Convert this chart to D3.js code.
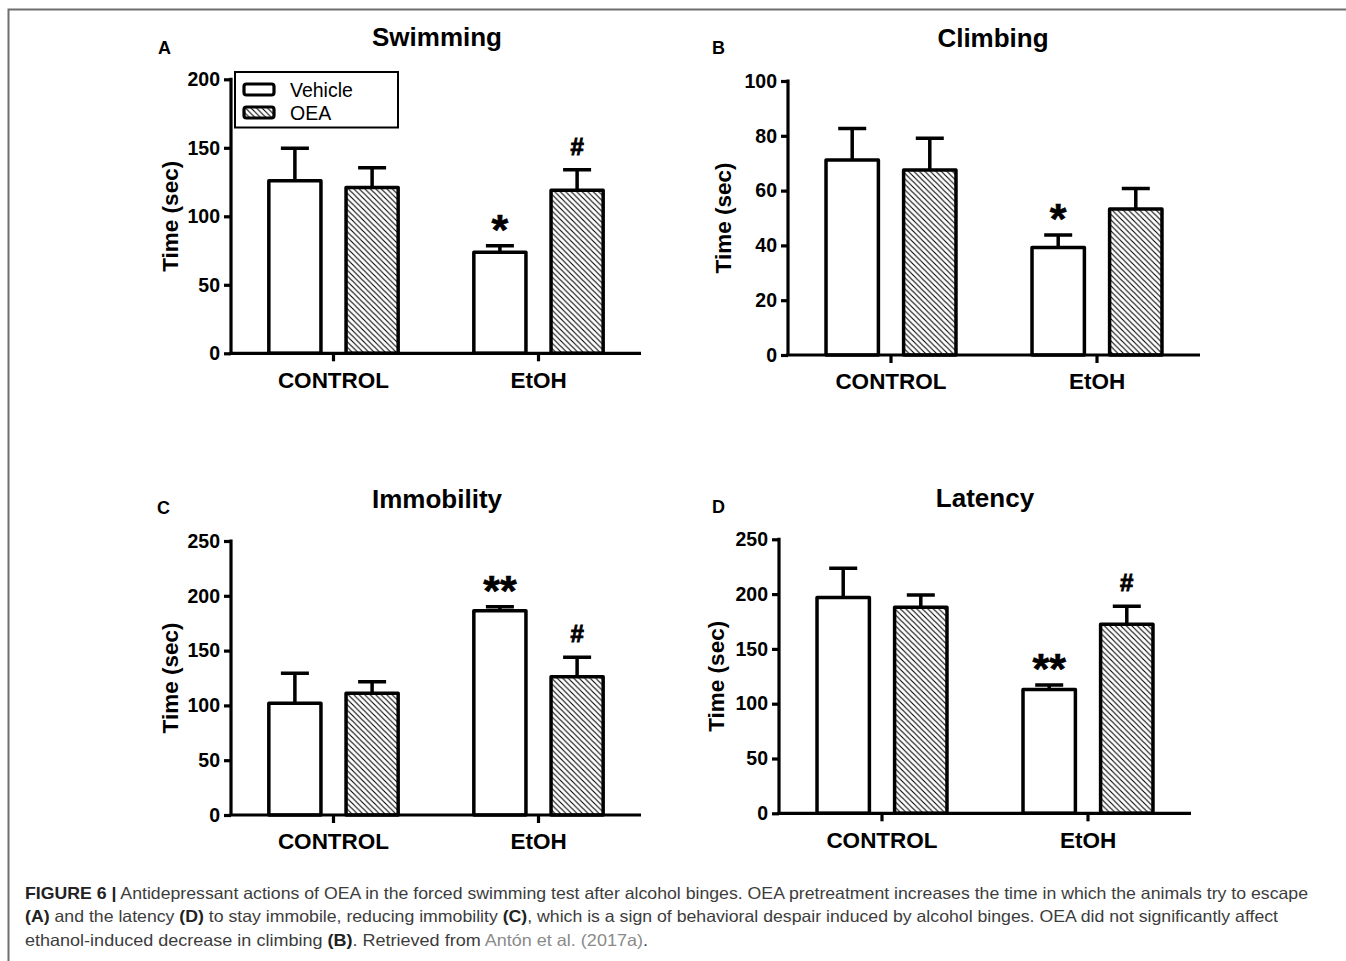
<!DOCTYPE html>
<html><head><meta charset="utf-8">
<script src="https://cdn.jsdelivr.net/npm/d3@7"></script>
<style>
html,body{margin:0;padding:0;background:#fff;}
svg{display:block;font-family:"Liberation Sans",Arial,sans-serif;}
</style></head>
<body><svg id="c" width="1346" height="961"></svg>
<script>
// ---- data ----
const groups = ["CONTROL", "EtOH"];
const treatments = ["Vehicle", "OEA"];
const panelLetters = ["A", "B", "C", "D"];
const panelTitles = ["Swimming", "Climbing", "Immobility", "Latency"];
const yMaxes = [200, 100, 250, 250];
const yTicksA = [0, 50, 100, 150, 200];
const yTicksB = [0, 20, 40, 60, 80, 100];
const yTicksC = [0, 50, 100, 150, 200, 250];
const yTicksD = [0, 50, 100, 150, 200, 250];
// means [group][treatment]
const swimmingMean = [[126, 121], [73.7, 119]];
const swimmingSEM = [[23.7, 14.5], [4.8, 15]];
const climbingMean = [[71.2, 67.5], [39.2, 53.3]];
const climbingSEM = [[11.5, 11.6], [4.6, 7.5]];
const immobilityMean = [[102, 111], [186.4, 126.2]];
const immobilitySEM = [[27.3, 10.6], [3.6, 17.7]];
const latencyMean = [[197, 188], [113, 172.4]];
const latencySEM = [[26.5, 11.2], [4, 16.6]];
const swimmingSig = [["", ""], ["*", "#"]];
const climbingSig = [["", ""], ["*", ""]];
const immobilitySig = [["", ""], ["**", "#"]];
const latencySig = [["", ""], ["**", "#"]];
const yLabel = "Time (sec)";

const means = [swimmingMean, climbingMean, immobilityMean, latencyMean];
const sems = [swimmingSEM, climbingSEM, immobilitySEM, latencySEM];
const sigs = [swimmingSig, climbingSig, immobilitySig, latencySig];
const ticks = [yTicksA, yTicksB, yTicksC, yTicksD];

// ---- layout (positions only) ----
const layout = [
  {x0: 231, x1: 641, yT: 79.3, yB: 353.3, tx: 437, ty: 46, lx: 158, ly: 54, ax: 170},
  {x0: 788, x1: 1200, yT: 81, yB: 355, tx: 993, ty: 47, lx: 712, ly: 54, ax: 723},
  {x0: 231, x1: 641, yT: 541, yB: 815, tx: 437, ty: 508, lx: 157, ly: 514, ax: 170},
  {x0: 779, x1: 1191, yT: 539.3, yB: 813.3, tx: 985, ty: 507, lx: 712, ly: 513, ax: 716}
];

const svg = d3.select("#c");
const defs = svg.append("defs");
const pat = defs.append("pattern").attr("id", "hatch")
  .attr("patternUnits", "userSpaceOnUse").attr("width", 5.5).attr("height", 5.5);
pat.append("rect").attr("width", 5.5).attr("height", 5.5).attr("fill", "#fff");
pat.append("path").attr("d", "M-1,-1 L6.5,6.5 M-1,4.5 L1,6.5 M4.5,-1 L6.5,1")
  .attr("stroke", "#000").attr("stroke-width", 1.1);

// frame
svg.append("path").attr("d", "M1346,9.5 L8.5,9.5 L8.5,961")
  .attr("fill", "none").attr("stroke", "#6f6f6f").attr("stroke-width", 2);

layout.forEach((L, i) => {
  const g = svg.append("g");
  const y = d3.scaleLinear().domain([0, yMaxes[i]]).range([L.yB, L.yT]);
  const x = d3.scaleBand().domain(groups).range([L.x0, L.x1]).padding(0);
  const xs = d3.scaleBand().domain(treatments).range([0, x.bandwidth()])
    .paddingInner(0.325).paddingOuter(0.49);

  // title & letter
  g.append("text").attr("x", L.tx).attr("y", L.ty).attr("text-anchor", "middle")
    .attr("font-size", 26).attr("font-weight", "bold").text(panelTitles[i]);
  g.append("text").attr("x", L.lx).attr("y", L.ly)
    .attr("font-size", 18).attr("font-weight", "bold").text(panelLetters[i]);

  // bars
  const data = [];
  groups.forEach((gr, gi) => treatments.forEach((tr, ti) => {
    data.push({gr, tr, m: means[i][gi][ti], s: sems[i][gi][ti], sig: sigs[i][gi][ti]});
  }));
  const bx = d => x(d.gr) + xs(d.tr);
  const bw = xs.bandwidth();

  // error bars (upper only)
  g.selectAll(".err").data(data).enter().append("path")
    .attr("d", d => {
      const cx = bx(d) + bw / 2;
      const t = y(d.m + d.s);
      return `M${cx},${y(d.m)} L${cx},${t} M${cx - 14},${t} L${cx + 14},${t}`;
    })
    .attr("stroke", "#000").attr("stroke-width", 3.5).attr("fill", "none");

  g.selectAll(".bar").data(data).enter().append("rect")
    .attr("x", d => bx(d)).attr("width", bw)
    .attr("y", d => y(d.m)).attr("height", d => y(0) - y(d.m))
    .attr("fill", d => d.tr === "OEA" ? "url(#hatch)" : "#fff")
    .attr("stroke", "#000").attr("stroke-width", 3.5).attr("stroke-linejoin", "round");

  // significance marks
  g.selectAll(".sig").data(data.filter(d => d.sig)).enter().append("text")
    .attr("x", d => bx(d) + bw / 2)
    .attr("y", d => d.sig === "#" ? y(d.m + d.s) - 15 : y(d.m + d.s) - 2)
    .attr("text-anchor", "middle").attr("font-weight", "bold")
    .attr("font-size", d => d.sig === "#" ? 24 : 43)
    .attr("stroke", "#000").attr("stroke-width", d => d.sig === "#" ? 0.9 : 0.6)
    .text(d => d.sig);

  // axes
  const ya = d3.axisLeft(y).tickValues(ticks[i]).tickSize(7).tickPadding(4).tickSizeOuter(0);
  const yg = g.append("g").attr("transform", `translate(${L.x0},0)`).call(ya);
  const xa = d3.axisBottom(x).tickSize(8).tickSizeOuter(0).tickPadding(6);
  const xg = g.append("g").attr("transform", `translate(0,${L.yB})`).call(xa);
  [yg, xg].forEach(a => {
    a.select(".domain").attr("stroke", "#000").attr("stroke-width", 3.2);
    a.selectAll(".tick line").attr("stroke", "#000").attr("stroke-width", 3.2);
    a.selectAll("text").attr("font-family", "Liberation Sans, Arial, sans-serif")
      .attr("font-weight", "bold").attr("fill", "#000");
  });
  xg.select(".domain").attr("d", `M${L.x0 - 1.6},0 H${L.x1}`);
  yg.select(".domain").attr("d", `M0,${L.yB} V${L.yT - 1.6}`);
  yg.selectAll("text").attr("font-size", 19.5);
  xg.selectAll("text").attr("font-size", 22.5).attr("dy", "0.9em");

  // y label
  g.append("text").attr("transform", `translate(${L.ax + 8},${(L.yT + L.yB) / 2}) rotate(-90)`)
    .attr("text-anchor", "middle").attr("font-size", 22.5).attr("font-weight", "bold").text(yLabel);

  // legend (panel A only)
  if (i === 0) {
    const lg = g.append("g");
    lg.append("rect").attr("x", 235).attr("y", 72).attr("width", 163).attr("height", 55.5)
      .attr("fill", "#fff").attr("stroke", "#000").attr("stroke-width", 2);
    treatments.forEach((t, k) => {
      lg.append("rect").attr("x", 244).attr("y", 84 + k * 23).attr("width", 30).attr("height", 11)
        .attr("rx", 2.5).attr("fill", t === "OEA" ? "url(#hatch)" : "#fff")
        .attr("stroke", "#000").attr("stroke-width", 3.2);
      lg.append("text").attr("x", 290).attr("y", 97 + k * 23).attr("font-size", 19.5).text(t);
    });
  }
});

// caption
const capLines = [
  {y: 898.5, len: 1283, parts: [["FIGURE 6 |", "b"], [" Antidepressant actions of OEA in the forced swimming test after alcohol binges. OEA pretreatment increases the time in which the animals try to escape", ""]]},
  {y: 922, len: 1253, parts: [["(A)", "b"], [" and the latency ", ""], ["(D)", "b"], [" to stay immobile, reducing immobility ", ""], ["(C)", "b"], [", which is a sign of behavioral despair induced by alcohol binges. OEA did not significantly affect", ""]]},
  {y: 945.5, len: 623, parts: [["ethanol-induced decrease in climbing ", ""], ["(B)", "b"], [". Retrieved from ", ""], ["Antón et al. (2017a)", "g"], [".", ""]]}
];
capLines.forEach(l => {
  const t = svg.append("text").attr("x", 25).attr("y", l.y).attr("font-size", 16.5)
    .attr("fill", "#3c3c3c").attr("textLength", l.len).attr("lengthAdjust", "spacingAndGlyphs");
  l.parts.forEach(p => {
    const s = t.append("tspan").text(p[0]);
    if (p[1] === "b") s.attr("font-weight", "bold").attr("fill", "#222");
    if (p[1] === "g") s.attr("fill", "#8a8a8a");
  });
});
</script></body></html>
